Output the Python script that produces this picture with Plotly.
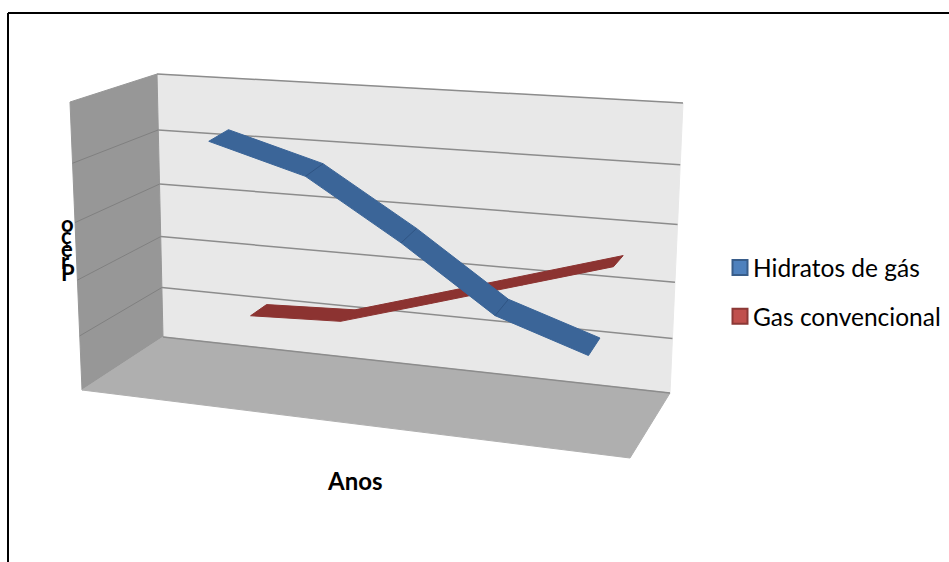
import plotly.graph_objects as go

# ---- data ----
categories = [0, 1, 2, 3, 4]
series_names = ["Hidratos de gás", "Gas convencional"]
hidratos = [4.5, 4.05, 3.1, 2.05, 1.55]
convencional = [1.03, 1.1, 1.59, 2.06, 2.52]
gridline_values = [1, 2, 3, 4]
title_letters = ["o", "ç", "e", "r", "P"]

# ---- oblique-box projection (layout of the pseudo 3D box, pixels) ----
BOX = {  # (u, depth, height)
    (0, 0, 0): (163, 337), (1, 0, 0): (670, 393),
    (0, 0, 1): (157, 74),  (1, 0, 1): (683, 103),
    (0, 1, 0): (82, 390),  (1, 1, 0): (630, 458),
    (0, 1, 1): (70, 102),  (1, 1, 1): (643, 140),
}
VMAX = 5.0
K = 0.08


def project(u, v, val):
    w = val / VMAX
    w = w / (1 + K * (1 - w))
    x = y = 0.0
    for (a, b, c), (px, py) in BOX.items():
        f = (u if a else 1 - u) * (v if b else 1 - v) * (w if c else 1 - w)
        x += f * px
        y += f * py
    return x, y


def poly(points):
    xs, ys = zip(*points)
    return list(xs) + [xs[0]], list(ys) + [ys[0]]


def cat_u(i):
    return 0.225 + 0.171 * i


fig = go.Figure()
WALL, SIDE, FLOOR, GRID = "#E8E8E8", "#979797", "#AFAFAF", "#8C8C8C"


def face(points, color):
    xs, ys = poly(points)
    fig.add_trace(go.Scatter(x=xs, y=ys, mode="lines", fill="toself", fillcolor=color,
                             line=dict(color=color, width=1), hoverinfo="skip", showlegend=False))


def line(points, color=GRID, width=1.5):
    xs, ys = zip(*points)
    fig.add_trace(go.Scatter(x=xs, y=ys, mode="lines", line=dict(color=color, width=width),
                             hoverinfo="skip", showlegend=False))


face([project(0, 0, 0), project(1, 0, 0), project(1, 0, VMAX), project(0, 0, VMAX)], WALL)
face([project(0, 0, 0), project(0, 1, 0), project(0, 1, VMAX), project(0, 0, VMAX)], SIDE)
face([project(0, 0, 0), project(1, 0, 0), project(1, 1, 0), project(0, 1, 0)], FLOOR)

for g in gridline_values:
    line([project(0, 1, g), project(0, 0, g)], "#808080", 1)
    line([project(0, 0, g), project(1, 0, g)])
line([project(0, 0, VMAX), project(1, 0, VMAX)], "#8C8C8C", 1.5)
line([project(0, 0, 0), project(1, 0, 0)], "#8C8C8C", 1.5)


def ribbon(values, v_center, half, thick, color, seam):
    # top surface of the band plus a thin side face below its front edge
    front = [project(cat_u(i), v_center + half, val - thick) for i, val in zip(categories, values)]
    back = [project(cat_u(i), v_center - half, val) for i, val in zip(categories, values)]
    face(front + back[::-1], color)
    for i in range(1, len(values) - 1):
        line([front[i], back[i]], seam, 1)


ribbon(convencional, 0.25, 0.11, 0.0, "#8C3331", "#8C3331")
ribbon(hidratos, 0.75, 0.13, 0.05, "#3B6598", "#2F5483")

# legend entries
for name, fillc, linec in zip(series_names, ["#4F81BD", "#C0504D"], ["#385D8A", "#8C3836"]):
    fig.add_trace(go.Scatter(x=[None], y=[None], mode="markers", name=name, legendgroup=name,
                             marker=dict(symbol="square", size=15, color=fillc,
                                         line=dict(color=linec, width=2))))

# frame (no right/bottom sides: they fall outside the picture)
fig.add_shape(type="line", x0=8, y0=13, x1=949, y1=13, line=dict(color="black", width=2))
fig.add_shape(type="line", x0=8, y0=13, x1=8, y1=562, line=dict(color="black", width=2))

fig.add_annotation(x=355, y=480, text="<b>Anos</b>", showarrow=False,
                   font=dict(family="Lato", size=24, color="black"))
# the axis title is drawn as tightly stacked upright letters: small base size sets the line pitch
stacked = "<br>".join(f"<span style='font-size:22px'><b>{c}</b></span>" for c in title_letters)
fig.add_annotation(x=59, y=248, text=stacked, showarrow=False, xanchor="left", align="left",
                   font=dict(family="Lato", size=9.5, color="black"))

fig.update_layout(
    width=949, height=562, margin=dict(l=0, r=0, t=0, b=0),
    paper_bgcolor="white", plot_bgcolor="white",
    xaxis=dict(range=[0, 949], visible=False, fixedrange=True),
    yaxis=dict(range=[562, 0], visible=False, fixedrange=True),
    legend=dict(x=713 / 949, y=1 - 245 / 562, xanchor="left", yanchor="top",
                font=dict(family="Lato", size=24.5, color="black"),
                bgcolor="rgba(0,0,0,0)", tracegroupgap=14, itemsizing="trace"),
)

fig.write_html(
    "out.html",
    config={"displayModeBar": False},
    post_script="document.body.style.margin='0';document.body.style.overflow='hidden';"
                "document.querySelectorAll('.legendsymbols').forEach(function(s){"
                "s.setAttribute('transform','translate(7,0)');});",
)
